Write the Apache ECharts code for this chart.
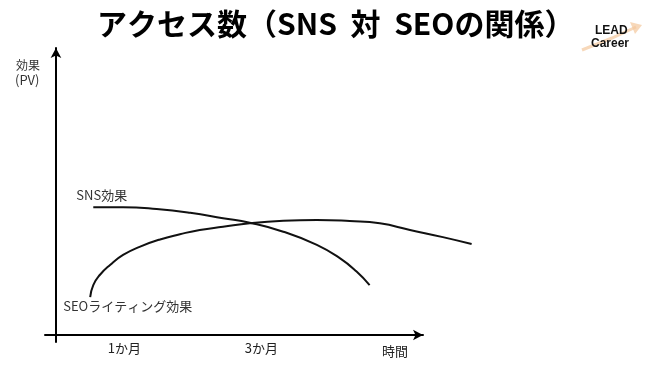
<!DOCTYPE html>
<html>
<head>
<meta charset="utf-8">
<style>
html,body{margin:0;padding:0;background:#fff;}
#chart{width:659px;height:387px;}
</style>
<script src="https://cdn.jsdelivr.net/npm/echarts@6/dist/echarts.min.js"></script>
</head>
<body>
<div id="chart"></div>
<script>
// x in months, y in relative effect (PV)
const snsX = [0.545, 0.98, 1.47, 1.96, 2.44, 2.83, 3.32, 3.81, 4.15, 4.39, 4.58];
const snsY = [44.5, 44.5, 43.9, 42.6, 40.7, 39.1, 36.0, 31.4, 26.7, 22.1, 17.4];
const seoX = [0.50, 0.545, 0.64, 0.79, 0.98, 1.23, 1.52, 1.81, 2.10, 2.44, 2.83, 3.32, 3.81, 4.29, 4.73, 5.17, 5.65, 6.07];
const seoY = [13.2, 17.4, 20.9, 24.4, 27.9, 30.8, 33.3, 35.1, 36.6, 37.7, 38.9, 39.8, 40.1, 39.7, 38.9, 36.6, 34.1, 31.7];
const xTickValues = [1, 3];
const xTickLabels = ['1か月', '3か月'];
const seriesNames = ['SNS効果', 'SEOライティング効果'];

const FONT = '"Noto Sans CJK JP", "Noto Sans", sans-serif';

// drawn axes end at 5.36 months; the curves run on a wider, hidden twin grid with the same scale
const X_MIN = -0.16, X_AXIS_MAX = 5.36, Y_MIN = -2.44, Y_MAX = 100;
const PX_PER_MONTH = (659 - 236 - 45) / (X_AXIS_MAX - X_MIN);
const WIDE_RIGHT = 170;
const X_WIDE_MAX = X_MIN + (659 - WIDE_RIGHT - 45) / PX_PER_MONTH;

function build(xs, ys, labelText, labelPos) {
  return xs.map((x, i) => {
    const item = { value: [x, ys[i]] };
    if (i === 0) {
      item.label = {
        show: true,
        formatter: labelText,
        position: labelPos,
        align: 'left',
        verticalAlign: 'middle',
        color: '#333',
        fontSize: 13,
        fontFamily: FONT
      };
    }
    return item;
  });
}

const arrowLine = {
  onZero: true,
  lineStyle: { color: '#000', width: 2 },
  symbol: ['none', 'arrow'],
  symbolSize: [8, 10]
};

const chart = echarts.init(document.getElementById('chart'));
chart.setOption({
  backgroundColor: '#fff',
  animation: false,
  title: {
    text: 'アクセス数（SNS  対  SEOの関係）',
    left: 92,
    top: 4,
    textStyle: { fontFamily: FONT, fontWeight: 'bold', fontSize: 30, color: '#000' }
  },
  grid: [
    { left: 45, right: 236, top: 48, bottom: 45 },
    { left: 45, right: WIDE_RIGHT, top: 48, bottom: 45 }
  ],
  xAxis: [
    {
      gridIndex: 0,
      type: 'value',
      min: X_MIN,
      max: X_AXIS_MAX,
      splitLine: { show: false },
      axisTick: { show: false },
      axisLine: arrowLine,
      axisLabel: {
        customValues: xTickValues,
        formatter: v => xTickLabels[xTickValues.indexOf(v)],
        margin: 0,
        color: '#222',
        fontSize: 13,
        fontFamily: FONT
      },
      name: '時間',
      nameLocation: 'end',
      nameGap: -28,
      nameTextStyle: {
        align: 'center', verticalAlign: 'top', padding: [10, 0, 0, 0],
        color: '#222', fontSize: 13, fontFamily: FONT
      }
    },
    {
      gridIndex: 1,
      type: 'value',
      min: X_MIN,
      max: X_WIDE_MAX,
      show: false
    }
  ],
  yAxis: [
    {
      gridIndex: 0,
      type: 'value',
      min: Y_MIN,
      max: Y_MAX,
      splitLine: { show: false },
      axisTick: { show: false },
      axisLabel: { show: false },
      axisLine: arrowLine
    },
    {
      gridIndex: 1,
      type: 'value',
      min: Y_MIN,
      max: Y_MAX,
      show: false
    }
  ],
  graphic: [
    { type: 'text', left: 16, top: 59, style: { text: '効果', font: '12px ' + FONT, fill: '#333' } },
    { type: 'text', left: 15, top: 74, style: { text: '(PV)', font: '13px ' + FONT, fill: '#333' } },
    { type: 'polyline', shape: { points: [[582, 50], [612, 38], [636, 27]] }, style: { stroke: '#f3c79c', lineWidth: 3, fill: null, opacity: 0.7 }, z: 1 },
    { type: 'polygon', shape: { points: [[630, 22], [642, 25], [635, 34]] }, style: { fill: '#f3c79c', opacity: 0.7 }, z: 1 },
    { type: 'text', left: 595, top: 25, style: { text: 'LEAD', font: 'bold 12px "Liberation Sans", Arial, sans-serif', fill: '#111' }, z: 5 },
    { type: 'text', left: 591, top: 38, style: { text: 'Career', font: 'bold 12px "Liberation Sans", Arial, sans-serif', fill: '#111' }, z: 5 }
  ],
  series: [
    {
      name: seriesNames[0],
      type: 'line',
      xAxisIndex: 1,
      yAxisIndex: 1,
      smooth: 0.5,
      symbol: 'circle',
      symbolSize: 0,
      showSymbol: true,
      lineStyle: { color: '#111', width: 2 },
      itemStyle: { color: '#111' },
      data: build(snsX, snsY, seriesNames[0], [-17, -12])
    },
    {
      name: seriesNames[1],
      type: 'line',
      xAxisIndex: 1,
      yAxisIndex: 1,
      smooth: 0.5,
      symbol: 'circle',
      symbolSize: 0,
      showSymbol: true,
      lineStyle: { color: '#111', width: 2 },
      itemStyle: { color: '#111' },
      data: build(seoX, seoY, seriesNames[1], [-27, 9])
    }
  ]
});
</script>
</body>
</html>
